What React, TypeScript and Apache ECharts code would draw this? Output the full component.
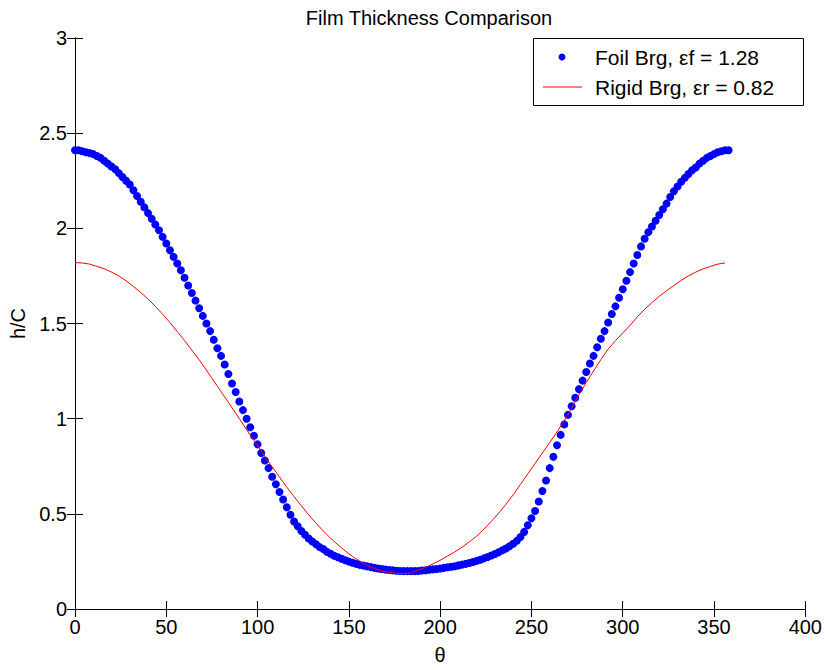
import React, { useEffect, useRef } from "react";
import * as echarts from "echarts";

// Sampling step of each series (degrees)
const FOIL_STEP = 2;
const RIGID_STEP = 4;

// Foil bearing h/C, theta = 0, 2, 4, ... 358
const H_FOIL = [
  2.41, 2.41, 2.405, 2.4, 2.395, 2.39, 2.38, 2.37, 2.355, 2.34,
  2.325, 2.31, 2.29, 2.27, 2.25, 2.23, 2.2, 2.17, 2.14, 2.11,
  2.08, 2.05, 2.02, 1.99, 1.955, 1.92, 1.885, 1.85, 1.815, 1.78,
  1.74, 1.7, 1.66, 1.62, 1.58, 1.54, 1.5, 1.46, 1.415, 1.37,
  1.33, 1.285, 1.235, 1.185, 1.14, 1.09, 1.045, 1.0, 0.955, 0.91,
  0.865, 0.82, 0.78, 0.74, 0.695, 0.655, 0.615, 0.575, 0.535, 0.495,
  0.46, 0.435, 0.41, 0.39, 0.37, 0.355, 0.34, 0.325, 0.315, 0.3,
  0.29, 0.28, 0.272, 0.264, 0.256, 0.249, 0.243, 0.237, 0.232, 0.228,
  0.224, 0.22, 0.216, 0.213, 0.21, 0.207, 0.205, 0.203, 0.201, 0.2,
  0.199, 0.199, 0.199, 0.199, 0.2, 0.202, 0.204, 0.206, 0.208, 0.21,
  0.213, 0.216, 0.219, 0.222, 0.225, 0.229, 0.233, 0.237, 0.242, 0.247,
  0.253, 0.259, 0.266, 0.273, 0.281, 0.289, 0.298, 0.308, 0.318, 0.33,
  0.343, 0.358, 0.378, 0.405, 0.44, 0.477, 0.515, 0.565, 0.62, 0.675,
  0.74, 0.8, 0.86, 0.915, 0.97, 1.02, 1.065, 1.11, 1.155, 1.2,
  1.245, 1.29, 1.33, 1.375, 1.42, 1.46, 1.505, 1.55, 1.59, 1.635,
  1.68, 1.725, 1.77, 1.815, 1.86, 1.905, 1.945, 1.98, 2.01, 2.04,
  2.07, 2.1, 2.13, 2.165, 2.195, 2.22, 2.245, 2.265, 2.285, 2.305,
  2.32, 2.34, 2.355, 2.37, 2.38, 2.39, 2.4, 2.405, 2.41, 2.41,
];

// Rigid bearing h/C, theta = 0, 4, 8, ... 356
const H_RIGID = [
  1.82, 1.818, 1.812, 1.8, 1.788, 1.77, 1.75, 1.724, 1.695, 1.663,
  1.628, 1.59, 1.549, 1.505, 1.458, 1.41, 1.36, 1.31, 1.255, 1.198,
  1.142, 1.086, 1.029, 0.971, 0.914, 0.858, 0.802, 0.747, 0.693, 0.64,
  0.59, 0.542, 0.495, 0.451, 0.41, 0.372, 0.337, 0.305, 0.276, 0.251,
  0.229, 0.212, 0.2, 0.192, 0.187, 0.186, 0.19, 0.205, 0.218, 0.237,
  0.256, 0.278, 0.3, 0.325, 0.353, 0.383, 0.42, 0.46, 0.503, 0.55,
  0.6, 0.655, 0.71, 0.765, 0.82, 0.875, 0.93, 0.99, 1.055, 1.125,
  1.19, 1.25, 1.31, 1.365, 1.41, 1.45, 1.49, 1.535, 1.575, 1.61,
  1.643, 1.672, 1.7, 1.727, 1.75, 1.77, 1.787, 1.8, 1.812, 1.818,
];

const TITLE = "Film Thickness Comparison";
const X_NAME = "θ";
const Y_NAME = "h/C";
const FOIL_NAME = "Foil Brg, εf = 1.28";
const RIGID_NAME = "Rigid Brg, εr = 0.82";

const FONT = "'Liberation Sans', Arial, Helvetica, sans-serif";

export default function App() {
  const ref = useRef<HTMLDivElement>(null);

  useEffect(() => {
    document.body.style.margin = "0";
    if (!ref.current) return;
    const chart = echarts.init(ref.current, undefined, { renderer: "svg" });

    const foilData = H_FOIL.map((h, i) => [i * FOIL_STEP, h]);
    const rigidData = H_RIGID.map((h, i) => [i * RIGID_STEP, h]);

    const axisLine = { show: true, lineStyle: { color: "#000", width: 1 } };
    const tick = { show: true, inside: true, length: 8, lineStyle: { color: "#000", width: 1 } };

    chart.setOption({
      animation: false,
      backgroundColor: "#fff",
      textStyle: { fontFamily: FONT },
      title: {
        text: TITLE,
        left: 424,
        top: 3,
        textAlign: "center",
        textStyle: { fontFamily: FONT, fontSize: 20, fontWeight: "normal", color: "#000" },
      },
      grid: { left: 75, right: 17, top: 38, bottom: 55, containLabel: false },
      xAxis: [
        {
          type: "value",
          min: 0,
          max: 400,
          interval: 50,
          position: "bottom",
          name: X_NAME,
          nameLocation: "middle",
          nameGap: 36,
          nameTextStyle: { fontFamily: FONT, fontSize: 20, color: "#000" },
          axisLine,
          axisTick: tick,
          axisLabel: { fontFamily: FONT, fontSize: 20, color: "#000", margin: 8 },
          splitLine: { show: false },
        },
        {
          type: "value",
          min: 0,
          max: 400,
          interval: 50,
          position: "top",
          axisLine,
          axisTick: tick,
          axisLabel: { show: false },
          splitLine: { show: false },
        },
      ],
      yAxis: [
        {
          type: "value",
          min: 0,
          max: 3,
          interval: 0.5,
          position: "left",
          name: Y_NAME,
          nameLocation: "middle",
          nameGap: 46,
          nameRotate: 90,
          nameTextStyle: { fontFamily: FONT, fontSize: 20, color: "#000" },
          axisLine,
          axisTick: tick,
          axisLabel: { fontFamily: FONT, fontSize: 20, color: "#000", margin: 8 },
          splitLine: { show: false },
        },
        {
          type: "value",
          min: 0,
          max: 3,
          interval: 0.5,
          position: "right",
          axisLine,
          axisTick: tick,
          axisLabel: { show: false },
          splitLine: { show: false },
        },
      ],
      series: [
        {
          name: FOIL_NAME,
          type: "scatter",
          data: foilData,
          symbol: "circle",
          symbolSize: 8,
          itemStyle: { color: "#0000ff", opacity: 1 },
          z: 2,
        },
        {
          name: RIGID_NAME,
          type: "line",
          data: rigidData,
          showSymbol: false,
          symbol: "none",
          lineStyle: { color: "#ff0000", width: 1 },
          z: 3,
        },
      ],
      graphic: [
        {
          type: "group",
          z: 100,
          children: [
            {
              type: "rect",
              shape: { x: 533.5, y: 38.5, width: 270, height: 67 },
              style: { fill: "#fff", stroke: "#000", lineWidth: 1 },
            },
            {
              type: "circle",
              shape: { cx: 562, cy: 57, r: 3.5 },
              style: { fill: "#0000ff" },
            },
            {
              type: "text",
              x: 595,
              y: 57,
              style: {
                text: FOIL_NAME,
                fontFamily: FONT,
                fontSize: 21,
                fill: "#000",
                verticalAlign: "middle",
                align: "left",
              },
            },
            {
              type: "line",
              shape: { x1: 543, y1: 87, x2: 582, y2: 87 },
              style: { stroke: "#ff0000", lineWidth: 1 },
            },
            {
              type: "text",
              x: 595,
              y: 87,
              style: {
                text: RIGID_NAME,
                fontFamily: FONT,
                fontSize: 21,
                fill: "#000",
                verticalAlign: "middle",
                align: "left",
              },
            },
          ],
        },
      ],
    });

    return () => chart.dispose();
  }, []);

  return <div ref={ref} style={{ width: 825, height: 670 }} />;
}
